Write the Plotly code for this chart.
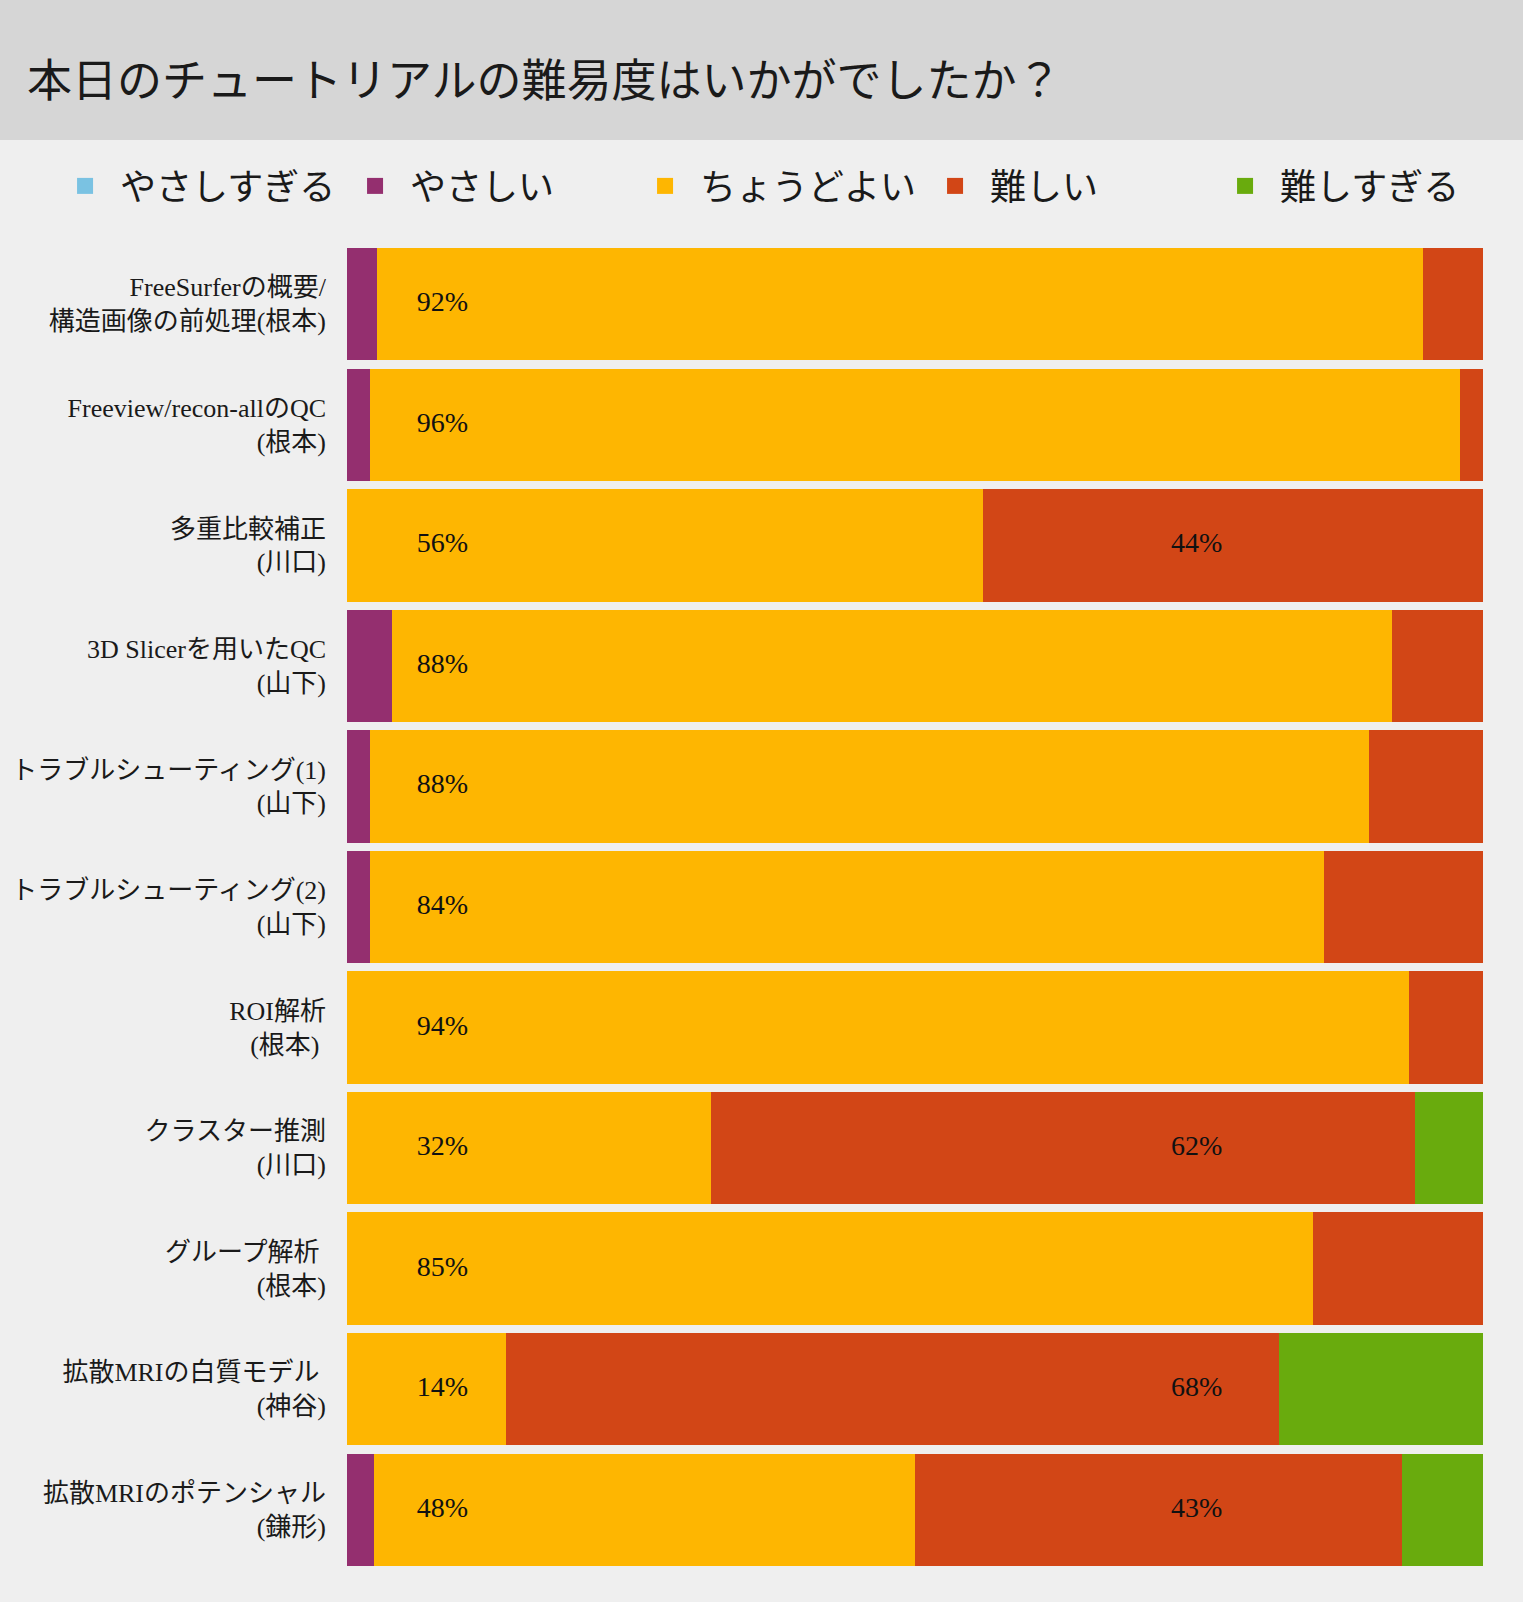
import plotly.graph_objects as go

# survey answers per tutorial (percent of respondents)
categories = [
    "FreeSurferの概要/<br>構造画像の前処理(根本)",
    "Freeview/recon-allのQC<br>(根本)",
    "多重比較補正<br>(川口)",
    "3D Slicerを用いたQC<br>(山下)",
    "トラブルシューティング(1)<br>(山下)",
    "トラブルシューティング(2)<br>(山下)",
    "ROI解析<br>(根本)\u00a0",
    "クラスター推測<br>(川口)",
    "グループ解析\u00a0<br>(根本)",
    "拡散MRIの白質モデル\u00a0<br>(神谷)",
    "拡散MRIのポテンシャル<br>(鎌形)",
]
series_names = ["やさしすぎる", "やさしい", "ちょうどよい", "難しい", "難しすぎる"]
too_easy = [0, 0, 0, 0, 0, 0, 0, 0, 0, 0, 0]
easy = [2.6, 2, 0, 4, 2, 2, 0, 0, 0, 0, 2.4]
just_right = [92.1, 96, 56, 88, 88, 84, 93.5, 32, 85, 14, 47.6]
hard = [5.3, 2, 44, 8, 10, 14, 6.5, 62, 15, 68, 42.9]
too_hard = [0, 0, 0, 0, 0, 0, 0, 6, 0, 18, 7.1]

just_labels = ["92%", "96%", "56%", "88%", "88%", "84%", "94%", "32%", "85%", "14%", "48%"]
hard_labels = ["", "", "44%", "", "", "", "", "62%", "", "68%", "43%"]

colors = ["#7ac2e2", "#942f6f", "#feb601", "#d24616", "#69ab0d"]
font_family = "Liberation Serif, Noto Sans CJK JP, serif"

fig = go.Figure()
for name, vals, col in zip(series_names, [too_easy, easy, just_right, hard, too_hard], colors):
    fig.add_trace(go.Bar(
        x=vals, y=categories, orientation="h", name=name,
        marker=dict(color=col, line=dict(width=0)),
        showlegend=False, hoverinfo="x+name",
    ))
    # legend proxy with a bigger square swatch
    fig.add_trace(go.Scatter(
        x=[None], y=[None], mode="markers", name=name,
        marker=dict(symbol="square", size=16, color=col),
    ))

# percentage labels at fixed positions inside the bars
fig.add_trace(go.Scatter(
    x=[8.4] * len(categories), y=categories, mode="text", text=just_labels,
    textfont=dict(size=28, color="#111111", family=font_family),
    showlegend=False, hoverinfo="skip",
))
fig.add_trace(go.Scatter(
    x=[74.8] * len(categories), y=categories, mode="text", text=hard_labels,
    textfont=dict(size=28, color="#111111", family=font_family),
    showlegend=False, hoverinfo="skip",
))

top, bottom = 244, 32
plot_h = 1602 - top - bottom
fig.update_layout(
    width=1523, height=1602,
    barmode="stack", bargap=0.068,
    paper_bgcolor="#efefef", plot_bgcolor="#efefef",
    margin=dict(l=347, r=40, t=top, b=bottom),
    font=dict(family=font_family, color="#222222"),
    title=dict(
        text="本日のチュートリアルの難易度はいかがでしたか？",
        x=27 / 1523, xanchor="left", xref="container",
        y=1 - 81 / 1602, yanchor="middle", yref="container",
        font=dict(size=45, color="#1a1a1a", family=font_family),
    ),
    legend=dict(
        orientation="h", x=-0.2614, xanchor="left", traceorder="normal",
        y=1 + (top - 186) / plot_h, yanchor="middle",
        font=dict(size=36, color="#1a1a1a", family=font_family),
        bgcolor="rgba(0,0,0,0)", itemwidth=60, entrywidth=215,
    ),
    xaxis=dict(range=[0, 100], visible=False, fixedrange=True),
    yaxis=dict(
        range=[len(categories) - 0.5, -0.5], showgrid=False, zeroline=False,
        tickfont=dict(size=26, color="#1a1a1a", family=font_family),
        ticklabelstandoff=20, showline=False, automargin=False,
    ),
    shapes=[dict(
        type="rect", xref="paper", yref="paper", layer="below",
        x0=-1, x1=2, y0=1 + (top - 140) / plot_h, y1=1 + top / plot_h,
        fillcolor="#d6d6d6", line=dict(width=0),
    )],
)

fig.write_html("out.html", config={"displayModeBar": False},
               post_script="document.body.style.margin='0';")
